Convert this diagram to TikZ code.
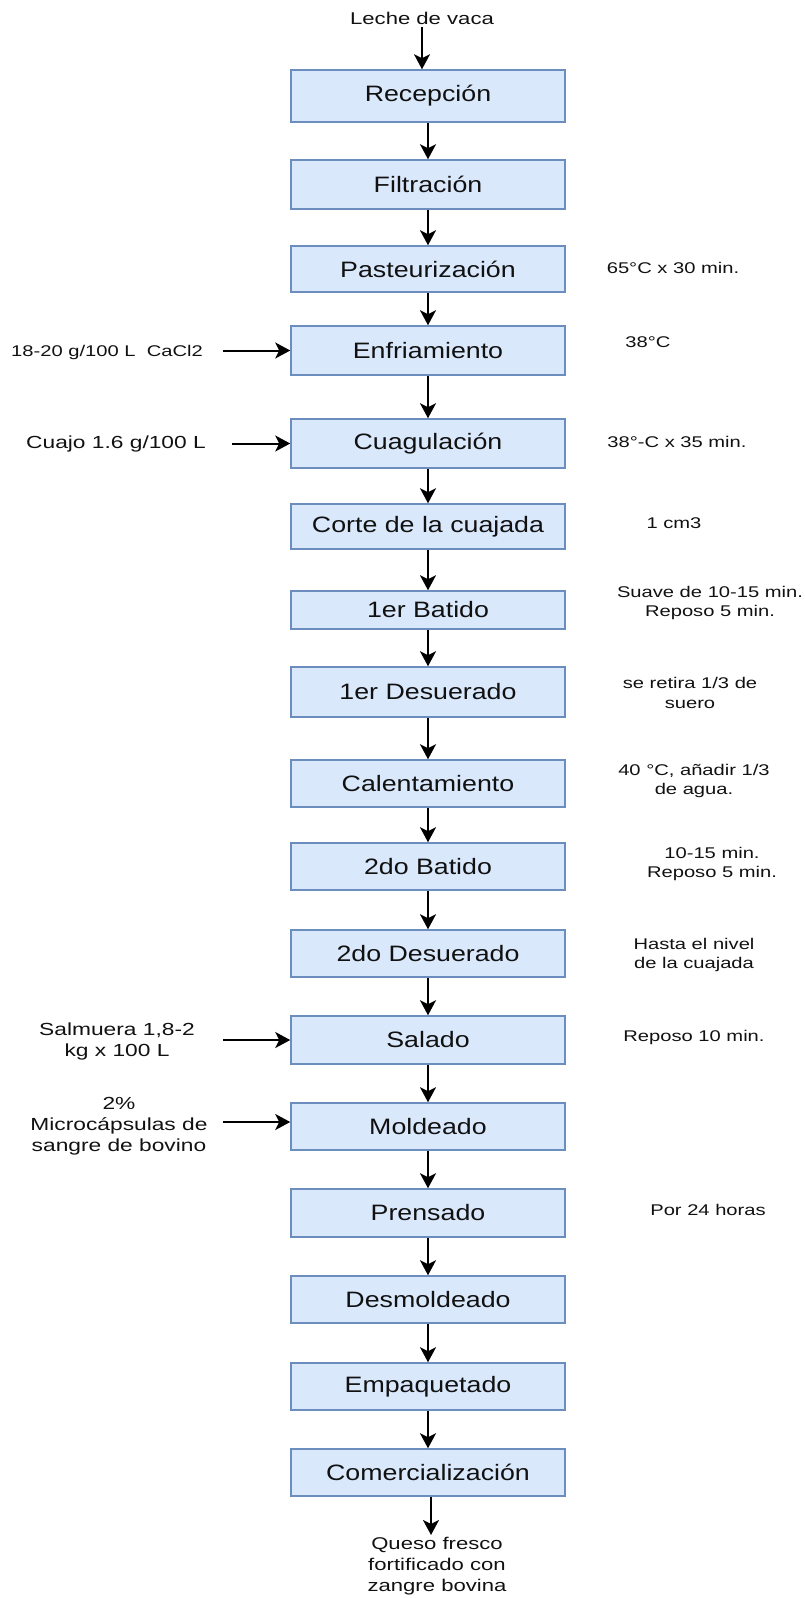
\documentclass[tikz,border=0pt]{standalone}
\usepackage{fontspec}
\setmainfont{Liberation Sans}[FakeStretch=1.3]
\newfontfamily\boxfont{Liberation Sans}[FakeStretch=1.2]
\usetikzlibrary{arrows.meta}
\definecolor{boxfill}{HTML}{DAE8FC}
\definecolor{boxdraw}{HTML}{6C8EBF}
\definecolor{txt}{HTML}{111111}
\begin{document}
\begin{tikzpicture}[x=1pt,y=-1pt,
 box/.style={draw=boxdraw, fill=boxfill, line width=1.5pt, minimum width=274pt, inner sep=0pt, text=txt, font=\boxfont\fontsize{22.3}{26}\selectfont},
 arr/.style={line width=2pt, -{Stealth[length=15pt,width=16pt,inset=4pt]}},
 rtxt/.style={inner sep=0pt, align=center, text=txt, font=\fontsize{15.5}{19.5}\selectfont},
 ltxt/.style={inner sep=0pt, align=center, text=txt, font=\fontsize{17.5}{21}\selectfont},
]
\useasboundingbox (0,0) rectangle (805,1598);

% process boxes
\node[box, minimum height=52pt] (b1) at (428,96) {Recepción};
\node[box, minimum height=49pt] (b2) at (428,184.5) {Filtración};
\node[box, minimum height=46pt] (b3) at (428,269) {Pasteurización};
\node[box, minimum height=49pt] (b4) at (428,350.5) {Enfriamiento};
\node[box, minimum height=49pt] (b5) at (428,443.5) {Cuagulación};
\node[box, minimum height=45pt] (b6) at (428,526.5) {Corte de la cuajada};
\node[box, minimum height=38pt] (b7) at (428,610) {1er Batido};
\node[box, minimum height=50pt] (b8) at (428,692) {1er Desuerado};
\node[box, minimum height=47pt] (b9) at (428,783.5) {Calentamiento};
\node[box, minimum height=47pt] (b10) at (428,866.5) {2do Batido};
\node[box, minimum height=47pt] (b11) at (428,953.5) {2do Desuerado};
\node[box, minimum height=48pt] (b12) at (428,1040) {Salado};
\node[box, minimum height=47pt] (b13) at (428,1126.5) {Moldeado};
\node[box, minimum height=48pt] (b14) at (428,1213) {Prensado};
\node[box, minimum height=47pt] (b15) at (428,1299.5) {Desmoldeado};
\node[box, minimum height=47pt] (b16) at (428,1386.5) {Empaquetado};
\node[box, minimum height=47pt] (b17) at (428,1472.5) {Comercialización};

% input / output texts
\node[ltxt, font=\fontsize{17}{21}\selectfont] (leche) at (422,18) {Leche de vaca};
\node[ltxt, font=\fontsize{17}{21}\selectfont] (queso) at (437,1566) {Queso fresco\\fortificado con\\zangre bovina};
\coordinate (qend) at (431,1535);

% left inputs
\node[ltxt, font=\fontsize{15.5}{19.5}\selectfont] (l4) at (107,352) {18-20 g/100 L\ \ CaCl2};
\node[ltxt] (l5) at (116,444) {Cuajo 1.6 g/100 L};
\node[ltxt] (l12) at (117,1041) {Salmuera 1,8-2\\kg x 100 L};
\node[ltxt] (l13) at (119,1126) {2\%\\Microcápsulas de\\sangre de bovino};
\coordinate (a4) at (223,350.5);
\coordinate (a5) at (232,443.5);
\coordinate (a12) at (223,1040);
\coordinate (a13) at (223,1122);

% right notes
\node[rtxt] (r3) at (673,268) {65°C x 30 min.};
\node[rtxt] (r4) at (648,342) {38°C};
\node[rtxt] (r5) at (677,442) {38°-C x 35 min.};
\node[rtxt] (r6) at (674,523) {1 cm3};
\node[rtxt] (r7) at (710,603) {Suave de 10-15 min.\\Reposo 5 min.};
\node[rtxt] (r8) at (690,693) {se retira 1/3 de\\suero};
\node[rtxt] (r9) at (694,781) {40 °C, añadir 1/3\\de agua.};
\node[rtxt] (r10) at (712,864) {10-15 min.\\Reposo 5 min.};
\node[rtxt] (r11) at (694,955) {Hasta el nivel\\de la cuajada};
\node[rtxt] (r12) at (694,1037) {Reposo 10 min.};
\node[rtxt] (r14) at (708,1210) {Por 24 horas};

% connectors
\draw[arr] ([yshift=-3pt]leche.south) -- (leche.south |- b1.north);
\foreach \i/\j in {1/2,2/3,3/4,4/5,5/6,6/7,7/8,8/9,9/10,10/11,11/12,12/13,13/14,14/15,15/16,16/17}
  \draw[arr] (b\i.south) -- (b\j.north);
\draw[arr] (b17.south -| qend) -- (qend);
\draw[arr] (a4) -- (a4 -| b4.west);
\draw[arr] (a5) -- (a5 -| b5.west);
\draw[arr] (a12) -- (a12 -| b12.west);
\draw[arr] (a13) -- (a13 -| b13.west);
\end{tikzpicture}
\end{document}
